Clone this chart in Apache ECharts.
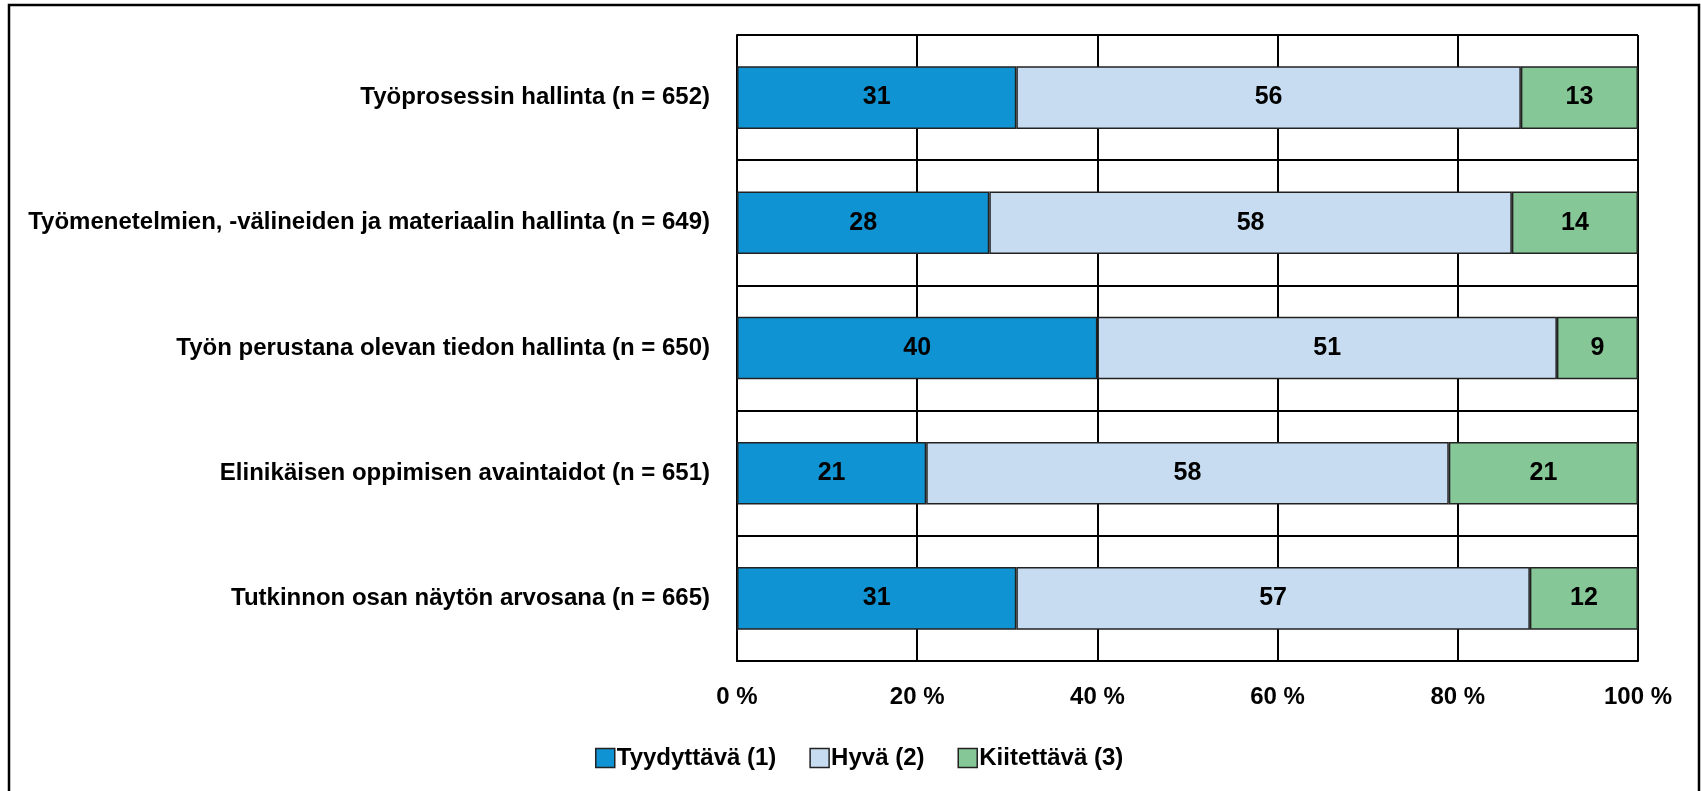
<!DOCTYPE html>
<html><head><meta charset="utf-8">
<script src="https://cdn.jsdelivr.net/npm/echarts@6/dist/echarts.min.js"></script>
<style>html,body{margin:0;padding:0;background:#fff}#c{width:1701px;height:791px}</style>
</head><body><div id="c"></div>
<script>
const categories = [
  'Työprosessin hallinta (n = 652)',
  'Työmenetelmien, -välineiden ja materiaalin hallinta (n = 649)',
  'Työn perustana olevan tiedon hallinta (n = 650)',
  'Elinikäisen oppimisen avaintaidot (n = 651)',
  'Tutkinnon osan näytön arvosana (n = 665)'
];
const seriesNames = ['Tyydyttävä (1)', 'Hyvä (2)', 'Kiitettävä (3)'];
const tyydyttava = [31, 28, 40, 21, 31];
const hyva = [56, 58, 51, 58, 57];
const kiitettava = [13, 14, 9, 21, 12];
const xTicks = [0, 20, 40, 60, 80, 100];

const FONT = '"Liberation Sans Narrow", "Arial Narrow", "Liberation Sans", Arial, sans-serif';
const colors = ['#1093d2', '#c7dcf0', '#86c797'];
const values = [tyydyttava, hyva, kiitettava];

const chart = echarts.init(document.getElementById('c'), null, {renderer: 'canvas'});
chart.setOption({
  animation: false,
  textStyle: {fontFamily: FONT},
  graphic: [{
    type: 'rect', shape: {x: 9, y: 5, width: 1690, height: 800},
    style: {fill: 'none', stroke: '#000', lineWidth: 2.5}, silent: true, z: -1
  }],
  grid: {left: 737, right: 63, top: 35, bottom: 130, containLabel: false, outerBoundsMode: 'none', show: false},
  legend: {
    left: 590, top: 741, itemWidth: 19, itemHeight: 19, itemGap: 33,
    icon: 'rect',
    textStyle: {fontFamily: FONT, fontSize: 24, fontWeight: 'bold', color: '#000', padding: [0, 0, 0, -3]},
    data: seriesNames.map((n, i) => ({name: n, itemStyle: {color: colors[i], borderColor: '#222', borderWidth: 1.5}}))
  },
  xAxis: {
    type: 'value', min: xTicks[0], max: xTicks[xTicks.length - 1], interval: 20,
    axisLine: {show: true, lineStyle: {color: '#000', width: 2}},
    axisTick: {show: false},
    splitLine: {show: true, lineStyle: {color: '#000', width: 2}},
    axisLabel: {formatter: '{value} %', fontFamily: FONT, fontSize: 24, fontWeight: 'bold', color: '#000', margin: 24}
  },
  yAxis: {
    type: 'category', data: categories, inverse: true,
    axisLine: {show: true, lineStyle: {color: '#000', width: 2}},
    axisTick: {show: false},
    splitLine: {show: true, lineStyle: {color: '#000', width: 2}},
    axisLabel: {fontFamily: FONT, fontSize: 24, fontWeight: 'bold', color: '#000', margin: 27}
  },
  series: seriesNames.map((n, i) => ({
    name: n, type: 'bar', stack: 'total', barWidth: '50%',
    data: values[i],
    itemStyle: {color: colors[i], borderColor: '#222', borderWidth: 1.5},
    label: {show: true, position: 'inside', fontFamily: FONT, fontSize: 25, fontWeight: 'bold', color: '#000'},
    z: 3
  }))
});
</script></body></html>
